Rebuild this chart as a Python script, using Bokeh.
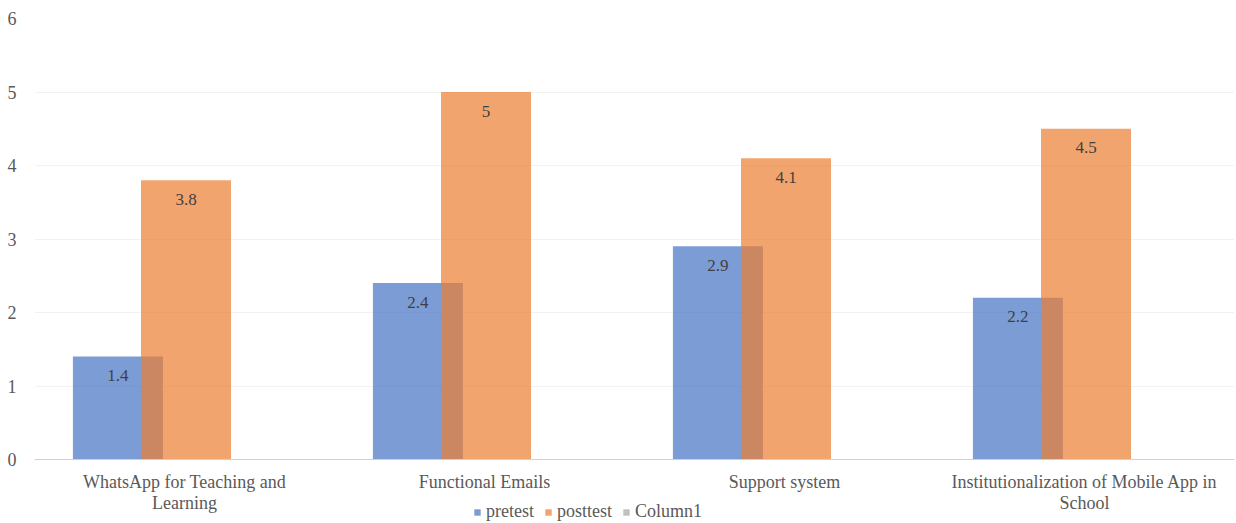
from bokeh.plotting import figure
from bokeh.models import (FactorRange, Range1d, Legend, LegendItem, ColumnDataSource,
                          FixedTicker, Span)
from bokeh.transform import dodge
from bokeh.core.properties import value
from bokeh.embed import file_html
from bokeh.resources import INLINE

categories = ["WhatsApp for Teaching and\nLearning", "Functional Emails", "Support system",
              "Institutionalization of Mobile App in\nSchool"]
pretest = [1.4, 2.4, 2.9, 2.2]
posttest = [3.8, 5.0, 4.1, 4.5]
column1 = [0, 0, 0, 0]
pre_labels = ["1.4", "2.4", "2.9", "2.2"]
post_labels = ["3.8", "5", "4.1", "4.5"]
y_ticks = [0, 1, 2, 3, 4, 5, 6]

line1 = [c.split("\n")[0] for c in categories]
line2 = [c.split("\n")[1] if "\n" in c else "" for c in categories]

src = ColumnDataSource(dict(cat=categories, pre=pretest, post=posttest, col1=column1,
                            pre_lab=pre_labels, post_lab=post_labels,
                            l1=line1, l2=line2, zero=column1))

FONT = "Liberation Serif"
W, H = 1236, 523
TOP, LEFT, RIGHT = 18, 34, 2
ZERO_PX = 459  # pixel row of the value axis zero line
px_per_unit = (ZERO_PX - TOP) / 6.0
y_start = -(H - ZERO_PX) / px_per_unit

p = figure(x_range=FactorRange(*categories), y_range=Range1d(y_start, 6), width=W, height=H,
           output_backend="svg", toolbar_location=None, x_axis_location=None,
           min_border_top=TOP, min_border_left=LEFT, min_border_right=RIGHT, min_border_bottom=0)
p.outline_line_color = None
p.background_fill_color = "white"
p.x_range.range_padding = 0

off_pre = -0.222
off_post = 0.005
bw = 0.3

r_pre = p.vbar(x=dodge("cat", off_pre, range=p.x_range), top="pre", width=bw, source=src,
               fill_color="#4472C4", fill_alpha=0.7, line_color=None)
r_post = p.vbar(x=dodge("cat", off_post, range=p.x_range), top="post", width=bw, source=src,
                fill_color="#ED7D31", fill_alpha=0.7, line_color=None)
r_col = p.vbar(x=dodge("cat", off_post - off_pre, range=p.x_range), top="col1", width=bw,
               source=src, fill_color="#A5A5A5", fill_alpha=0.7, line_color=None, line_alpha=0)

p.text(x=dodge("cat", off_pre, range=p.x_range), y="pre", text="pre_lab", source=src,
       text_font=value(FONT), text_font_size="17px", text_color="#404040",
       text_align="center", text_baseline="middle", y_offset=19)
p.text(x=dodge("cat", off_post, range=p.x_range), y="post", text="post_lab", source=src,
       text_font=value(FONT), text_font_size="17px", text_color="#404040",
       text_align="center", text_baseline="middle", y_offset=19)

# category labels (two lines) placed through the categorical scale
p.text(x="cat", y="zero", text="l1", source=src, text_font=value(FONT),
       text_font_size="18px", text_color="#595959", text_align="center",
       text_baseline="middle", y_offset=22)
p.text(x="cat", y="zero", text="l2", source=src, text_font=value(FONT),
       text_font_size="18px", text_color="#595959", text_align="center",
       text_baseline="middle", y_offset=43)

p.add_layout(Span(location=0, dimension="width", line_color="#D0D0D0", line_width=1.2))

p.xgrid.grid_line_color = None
p.ygrid.grid_line_color = "#F2F2F2"
p.yaxis.ticker = FixedTicker(ticks=y_ticks)
p.yaxis.axis_line_color = None
p.yaxis.major_tick_line_color = None
p.yaxis.minor_tick_line_color = None
p.yaxis.major_label_text_font = FONT
p.yaxis.major_label_text_font_size = "18px"
p.yaxis.major_label_text_color = "#595959"
p.yaxis.major_label_standoff = 12

legend = Legend(items=[LegendItem(label="pretest", renderers=[r_pre]),
                       LegendItem(label="posttest", renderers=[r_post]),
                       LegendItem(label="Column1", renderers=[r_col])],
                orientation="horizontal", location=(439, 1),
                label_text_font=FONT, label_text_font_size="18px", label_text_color="#595959",
                glyph_width=8, glyph_height=8, label_standoff=5, spacing=10,
                padding=0, margin=0, border_line_color=None, background_fill_alpha=0,
                label_height=18)
p.add_layout(legend, "center")

open("out.html", "w").write(file_html(p, INLINE))
